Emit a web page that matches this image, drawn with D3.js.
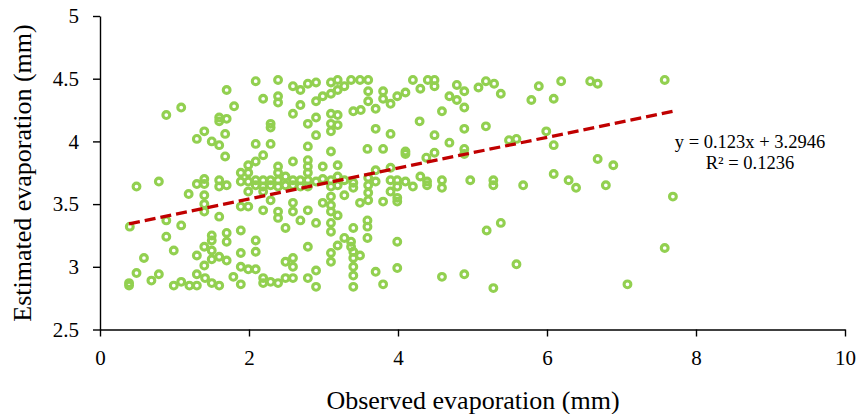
<!DOCTYPE html>
<html><head><meta charset="utf-8">
<script src="https://cdn.jsdelivr.net/npm/d3@7"></script>
<style>body{margin:0;background:#fff}svg{display:block}</style>
</head><body>
<svg id="chart" width="858" height="414"></svg>
<script>
const observed = [
0.4,0.39,0.39,0.49,0.79,0.59,0.49,0.69,0.79,0.89,1.09,0.89,1.09,0.89,0.99,0.99,1.09,1.2,1.3,1.3,
1.19,1.3,1.4,1.4,1.4,1.4,1.4,1.3,1.4,1.5,1.6,1.6,1.6,1.7,1.68,1.68,1.6,1.6,1.6,1.5,
1.5,1.4,1.5,1.3,1.4,1.5,1.6,1.41,1.5,1.6,1.7,
1.8,1.7,2.09,2.39,2.19,2.39,2.39,2.59,2.69,2.79,2.9,3.1,3.19,3.28,3.19,2.99,3.1,2.69,2.59,2.9,
3.1,3.19,2.79,2.9,3.1,3.19,3.1,2.9,2.29,2.29,2.09,2.29,2.19,2.09,2.79,3.1,2.79,2.79,2.79,2.79,
2.59,2.39,2.39,2.39,2.99,3.19,
1.89,1.89,1.99,1.99,2.09,2.09,2.19,2.19,2.29,2.29,2.39,2.49,2.49,2.59,2.59,2.69,2.69,2.79,2.9,2.99,
3.1,3.1,3.19,3.19,3.28,1.7,
1.99,1.99,2.19,2.29,1.89,1.99,2.19,2.39,2.39,2.59,2.59,2.69,2.79,2.9,2.49,2.99,3.1,3.1,3.1,3.19,
3.28,3.1,3.1,1.7,1.7,1.89,2.09,1.89,2.09,2.79,3.1,3.1,3.19,3.28,1.89,1.99,2.09,1.79,1.89,2.19,
2.19,2.29,2.39,2.49,2.59,2.49,2.59,2.59,2.79,2.9,2.9,
3.37,3.49,3.6,3.6,3.6,3.4,3.5,3.7,3.8,3.8,3.9,3.99,4.1,4.2,4.3,4.4,4.49,4.49,4.59,4.69,
4.79,4.79,4.89,4.89,3.7,3.9,4.29,4.49,4.69,4.89,3.59,3.8,4.1,4.1,4.49,4.38,4.89,4.89,3.7,3.9,
3.4,3.4,3.6,3.6,3.6,3.6,3.7,3.9,3.9,3.99,3.99,3.99,3.99,4.1,4.2,4.3,4.39,4.39,4.59,4.59,
4.97,3.49,3.8,3.59,3.59,3.4,3.37,3.37,3.4,3.59,3.99,3.49,3.4,3.4,3.4,3.4,3.7,3.8,3.99,4.59,4.89,
5.08,5.18,5.29,5.38,5.79,5.89,6.09,6.19,6.58,6.68,5.18,5.49,5.59,5.99,6.09,6.68,5.28,5.28,5.68,6.09,
6.29,6.39,5.19,5.38,5.59,5.28,
7.58,6.89,6.79,7.69,7.58,7.08
];
const estimated = [
3.32,2.87,2.85,3.64,3.68,3.07,2.95,2.89,2.94,4.21,4.27,3.37,3.33,3.24,3.13,2.85,2.88,2.85,2.85,2.94,
3.58,3.66,3.70,3.66,3.57,3.50,3.44,4.02,4.08,4.0,3.97,4.19,4.16,4.41,4.06,3.88,3.69,3.64,3.40,3.25,
3.21,3.16,3.13,3.09,3.01,3.06,3.08,2.91,2.87,2.85,3.05,
4.28,4.18,4.48,4.49,4.34,4.36,4.31,4.44,4.41,4.46,4.47,4.47,4.49,4.44,4.41,4.36,4.38,4.29,4.22,4.32,
4.22,4.21,4.14,4.19,4.14,4.13,4.08,4.05,4.14,4.11,3.98,3.98,3.89,3.84,3.96,3.92,3.85,3.80,3.75,3.69,
3.84,3.80,3.75,3.69,3.80,3.81,
3.75,3.68,3.75,3.68,3.69,3.65,3.69,3.64,3.69,3.65,3.64,3.72,3.65,3.69,3.65,3.69,3.64,3.64,3.68,3.70,
3.69,3.64,3.72,3.65,3.69,3.65,
3.81,3.60,3.60,3.53,3.48,3.48,3.45,3.44,3.39,3.51,3.44,3.37,3.45,3.35,3.31,3.51,3.56,3.49,3.44,3.41,
3.57,3.35,3.28,3.27,3.20,3.29,3.21,3.11,3.12,3.16,3.11,3.04,3.17,3.23,3.0,2.98,2.98,2.92,2.86,2.91,
2.87,2.88,2.87,2.91,2.91,3.04,3.07,3.0,2.91,2.97,2.84,
4.49,4.49,4.49,4.40,4.32,4.24,4.25,4.26,4.40,4.34,4.30,4.36,4.39,4.49,4.42,4.49,4.49,4.44,4.24,4.36,
4.45,4.33,4.40,4.27,4.10,4.06,4.16,4.05,3.99,4.10,3.94,3.94,3.92,3.90,3.91,3.87,3.94,3.90,3.77,3.79,
3.67,3.63,3.71,3.65,3.59,3.53,3.68,3.69,3.60,3.69,3.64,3.55,3.52,3.68,3.64,3.72,3.68,3.65,3.69,3.63,
3.69,3.51,3.52,3.37,3.32,3.31,3.20,3.16,3.12,3.23,3.20,3.09,3.07,3.0,2.93,2.84,2.96,2.86,2.99,2.92,2.94,
4.43,4.48,4.46,4.38,4.33,4.44,4.34,4.48,4.48,4.46,4.12,4.01,4.02,4.08,3.97,3.86,3.69,3.65,3.65,3.74,
3.69,3.63,3.29,3.35,3.02,2.83,
4.49,3.81,3.65,3.56,3.15,2.86
];
const xTicks = [0,2,4,6,8,10];
const yTicks = [2.5,3,3.5,4,4.5,5];
const slope = 0.123, intercept = 3.2946;
const eqText = "y = 0.123x + 3.2946";
const r2Text = "R\u00B2 = 0.1236";
const xTitle = "Observed evaporation (mm)";
const yTitle = "Estimated evaporation (mm)";

const svg = d3.select("#chart");
const font = "'Liberation Serif','Times New Roman',serif";
const x = d3.scaleLinear().domain([0,10]).range([100,845]);
const y = d3.scaleLinear().domain([2.5,5]).range([329.5,16]);

const xAxis = svg.append("g").attr("transform","translate(0,329.5)")
  .call(d3.axisBottom(x).tickValues(xTicks).tickSize(7).tickSizeOuter(0).tickPadding(14).tickFormat(d3.format("")));
const yAxis = svg.append("g").attr("transform","translate(100,0)")
  .call(d3.axisLeft(y).tickValues(yTicks).tickSize(7).tickSizeOuter(0).tickPadding(14).tickFormat(d3.format("")));
[xAxis,yAxis].forEach(a=>{
  a.selectAll("path,line").attr("stroke","#000").attr("stroke-width",1.4);
  a.selectAll("text").attr("font-family",font).attr("font-size",21).attr("fill","#000");
});

const pts = observed.map((v,i)=>({x:v,y:estimated[i]}));
svg.append("g").selectAll("circle").data(pts).join("circle")
  .attr("cx",d=>x(d.x)).attr("cy",d=>y(d.y)).attr("r",3.4)
  .attr("fill","none").attr("stroke","#92D050").attr("stroke-width",3.1);

const x0 = d3.min(observed), x1 = d3.max(observed);
svg.append("line")
  .attr("x1",x(x0)).attr("y1",y(slope*x0+intercept))
  .attr("x2",x(x1)).attr("y2",y(slope*x1+intercept))
  .attr("stroke","#C00000").attr("stroke-width",3.3).attr("stroke-dasharray","11,5");

const eq = svg.append("g").attr("font-family",font).attr("font-size",18.5).attr("text-anchor","middle").attr("fill","#000");
eq.append("text").attr("x",750).attr("y",148).text(eqText);
eq.append("text").attr("x",750).attr("y",169).text(r2Text);

svg.append("text").attr("x",473).attr("y",409).attr("text-anchor","middle")
  .attr("font-family",font).attr("font-size",26).text(xTitle);
svg.append("text").attr("transform","translate(31,173) rotate(-90)").attr("text-anchor","middle")
  .attr("font-family",font).attr("font-size",26).text(yTitle);
</script>
</body></html>
